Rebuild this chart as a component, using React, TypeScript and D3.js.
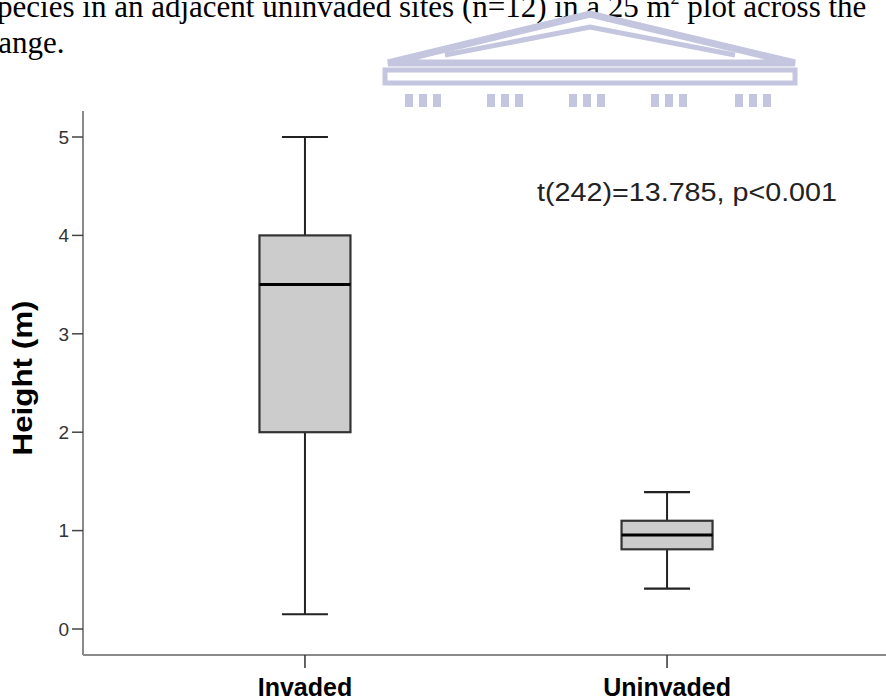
import React from "react";
import * as d3 from "d3";

const categories = ["Invaded", "Uninvaded"];
const mins = [0.15, 0.41];
const q1s = [2.0, 0.81];
const medians = [3.5, 0.955];
const q3s = [4.0, 1.1];
const maxs = [5.0, 1.39];
const yTicks = [0, 1, 2, 3, 4, 5];
const annotation = "t(242)=13.785, p<0.001";
const docLine1 = "species in an adjacent uninvaded sites (n=12) in a 25 m";
const docLine2 = "range.";

const W = 886;
const H = 699;

export default function App() {
  const y = d3.scaleLinear().domain([0, 5]).range([629, 137]);
  const x = d3.scalePoint<string>().domain(categories).range([83, 889]).padding(0.613);
  const boxW = 91;
  const capW = 46;
  const axisY = 655;
  const axisX = 83;
  const font = "Arial, 'Liberation Sans', sans-serif";
  const wm = "#c3c6de";
  const serif = "'Liberation Serif', 'Times New Roman', serif";

  return (
    <svg width={W} height={H} style={{ position: "absolute", left: 0, top: 0, background: "#fff" }}>
      <rect x={0} y={0} width={W} height={H} fill="#fff" />
      {/* document text */}
      <text x={-15} y={17} fontFamily={serif} fontSize={31} fill="#000">
        {docLine1}
        <tspan fontSize={18} dy={-13}>2</tspan>
        <tspan dy={13}> plot across the</tspan>
      </text>
      <text x={-12} y={53} fontFamily={serif} fontSize={31} fill="#000">
        {docLine2}
      </text>
      {/* watermark */}
      <g fill="none" stroke={wm} strokeWidth={7} strokeLinejoin="miter">
        <path d="M388,63 L590,14 L795,63 Z" />
        <path d="M445,55 L590,27 L735,55" strokeWidth={5} />
      </g>
      <rect x={385} y={70} width={410} height={13} fill="none" stroke={wm} strokeWidth={5} />
      <g fill={wm}>
        {[405, 487, 569, 651, 735].map((cx, i) => (
          <g key={i}>
            <rect x={cx} y={94} width={8} height={13} />
            <rect x={cx + 14} y={94} width={8} height={13} />
            <rect x={cx + 28} y={94} width={8} height={13} />
          </g>
        ))}
      </g>

      {/* axes */}
      <line x1={axisX} x2={axisX} y1={111} y2={axisY} stroke="#8a8a8a" strokeWidth={2} />
      <line x1={axisX} x2={W} y1={axisY} y2={axisY} stroke="#8a8a8a" strokeWidth={2} />
      {yTicks.map((t) => (
        <g key={t}>
          <line x1={72} x2={axisX} y1={y(t)} y2={y(t)} stroke="#444" strokeWidth={1.5} />
          <text x={69} y={y(t)} dy="0.36em" textAnchor="end" fontFamily={font} fontSize={19} fill="#333">
            {t}
          </text>
        </g>
      ))}
      {categories.map((c) => (
        <g key={c}>
          <line x1={x(c)} x2={x(c)} y1={axisY} y2={668} stroke="#333" strokeWidth={1.5} />
          <text x={x(c)} y={696} textAnchor="middle" fontFamily={font} fontWeight="bold" fontSize={25} fill="#000">
            {c}
          </text>
        </g>
      ))}
      <text
        transform={`translate(32,378) rotate(-90)`}
        textAnchor="middle"
        fontFamily={font}
        fontWeight="bold"
        fontSize={27}
        fill="#000"
        textLength={155}
        lengthAdjust="spacingAndGlyphs"
      >
        Height (m)
      </text>

      {/* boxes */}
      {categories.map((c, i) => {
        const cx = x(c) as number;
        return (
          <g key={c}>
            <line x1={cx} x2={cx} y1={y(maxs[i])} y2={y(q3s[i])} stroke="#222" strokeWidth={2} />
            <line x1={cx} x2={cx} y1={y(q1s[i])} y2={y(mins[i])} stroke="#222" strokeWidth={2} />
            <line x1={cx - capW / 2} x2={cx + capW / 2} y1={y(maxs[i])} y2={y(maxs[i])} stroke="#222" strokeWidth={2.2} />
            <line x1={cx - capW / 2} x2={cx + capW / 2} y1={y(mins[i])} y2={y(mins[i])} stroke="#222" strokeWidth={2.2} />
            <rect
              x={cx - boxW / 2}
              y={y(q3s[i])}
              width={boxW}
              height={y(q1s[i]) - y(q3s[i])}
              fill="#cccccc"
              stroke="#333"
              strokeWidth={2.2}
            />
            <line x1={cx - boxW / 2} x2={cx + boxW / 2} y1={y(medians[i])} y2={y(medians[i])} stroke="#000" strokeWidth={3} />
          </g>
        );
      })}

      <text x={537} y={201} fontFamily={font} fontSize={26} fill="#222" textLength={300} lengthAdjust="spacingAndGlyphs">
        {annotation}
      </text>
    </svg>
  );
}
